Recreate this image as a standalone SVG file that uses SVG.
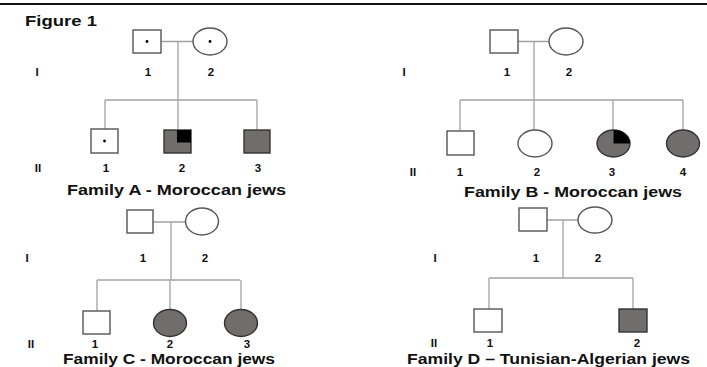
<svg xmlns="http://www.w3.org/2000/svg" width="707" height="367" viewBox="0 0 707 367">
<style>
.ln{stroke:#a3a3a3;stroke-width:1.3;fill:none}
.open{fill:#fff;stroke:#555;stroke-width:1.4}
.aff{fill:#716d6c;stroke:#333;stroke-width:1.4}
.blk{fill:#000}
.lbl{font-family:"Liberation Sans",Arial,sans-serif;font-weight:bold;font-size:11.5px;fill:#111;text-anchor:middle}
.fam{font-family:"Liberation Sans",Arial,sans-serif;font-weight:bold;font-size:14.5px;fill:#111}
</style>
<rect width="707" height="367" fill="#fff"/>
<line x1="0" y1="4" x2="707" y2="4" stroke="#111" stroke-width="2"/>
<text x="25" y="26" class="fam" font-size="15.5" textLength="72" lengthAdjust="spacingAndGlyphs">Figure 1</text>

<g id="connectors">
  <!-- A -->
  <path class="ln" d="M161 41.5H193M178 41.5V100M105 100H257M105 100V129M178 100V129M257 100V130"/>
  <!-- B -->
  <path class="ln" d="M518 41.5H549M534 41.5V100M460 100H683M460 100V131M534 100V130M613 100V130M683 100V130"/>
  <!-- C -->
  <path class="ln" d="M153 222H186M171 222V280M97 280H240M97 280V311M170 280V310M241 280V310"/>
  <!-- D -->
  <path class="ln" d="M547 220H578M563 220V278M489 278H633M489 278V309M633 278V309"/>
</g>

<g id="famA">
  <g id="A-I-1"><rect class="open" x="133" y="30" width="28" height="23"/><circle cx="147" cy="41.5" r="1.4" class="blk"/></g>
  <g id="A-I-2"><ellipse class="open" cx="210" cy="41.5" rx="17" ry="13.5"/><circle cx="210" cy="41.5" r="1.4" class="blk"/></g>
  <g id="A-II-1"><rect class="open" x="91" y="129" width="27" height="24"/><circle cx="104.5" cy="141" r="1.4" class="blk"/></g>
  <g id="A-II-2"><rect class="aff" x="164" y="130" width="27" height="23"/><rect class="blk" x="177" y="130" width="14" height="12.5"/></g>
  <g id="A-II-3"><rect class="aff" x="244" y="130" width="26" height="23"/></g>
  <text class="lbl" x="37" y="76">I</text><text class="lbl" x="148" y="76">1</text><text class="lbl" x="211" y="76">2</text>
  <text class="lbl" x="38" y="172">II</text><text class="lbl" x="106" y="172">1</text><text class="lbl" x="182" y="172">2</text><text class="lbl" x="258" y="172">3</text>
  <text class="fam" x="67" y="195" textLength="219" lengthAdjust="spacingAndGlyphs">Family  A - Moroccan jews</text>
</g>

<g id="famB">
  <g id="B-I-1"><rect class="open" x="490" y="30" width="28" height="23"/></g>
  <g id="B-I-2"><ellipse class="open" cx="566" cy="41.5" rx="17" ry="13.5"/></g>
  <g id="B-II-1"><rect class="open" x="447" y="131" width="27" height="24"/></g>
  <g id="B-II-2"><ellipse class="open" cx="535" cy="143.5" rx="17" ry="13.5"/></g>
  <g id="B-II-3"><ellipse class="aff" cx="613.5" cy="143.5" rx="16.5" ry="13.5"/><path class="blk" d="M613.5 143.5V130A16.5 13.5 0 0 1 630 143.5Z"/></g>
  <g id="B-II-4"><ellipse class="aff" cx="683" cy="143.5" rx="16.5" ry="13.5"/></g>
  <text class="lbl" x="404" y="76">I</text><text class="lbl" x="507" y="76">1</text><text class="lbl" x="569" y="76">2</text>
  <text class="lbl" x="413" y="176">II</text><text class="lbl" x="460" y="176">1</text><text class="lbl" x="537" y="176">2</text><text class="lbl" x="612" y="176">3</text><text class="lbl" x="683" y="176">4</text>
  <text class="fam" x="464" y="197" textLength="218" lengthAdjust="spacingAndGlyphs">Family  B - Moroccan jews</text>
</g>

<g id="famC">
  <g id="C-I-1"><rect class="open" x="127" y="210" width="26" height="23"/></g>
  <g id="C-I-2"><ellipse class="open" cx="202" cy="221.5" rx="16.5" ry="13.5"/></g>
  <g id="C-II-1"><rect class="open" x="83" y="311" width="27" height="23"/></g>
  <g id="C-II-2"><ellipse class="aff" cx="170" cy="323" rx="16.5" ry="13.5"/></g>
  <g id="C-II-3"><ellipse class="aff" cx="241" cy="323" rx="16.5" ry="13.5"/></g>
  <text class="lbl" x="27" y="262">I</text><text class="lbl" x="143" y="262">1</text><text class="lbl" x="205" y="262">2</text>
  <text class="lbl" x="31" y="347.5">II</text><text class="lbl" x="95" y="347.5">1</text><text class="lbl" x="170" y="347.5">2</text><text class="lbl" x="247" y="347.5">3</text>
  <text class="fam" x="63" y="364" textLength="212" lengthAdjust="spacingAndGlyphs">Family C - Moroccan jews</text>
</g>

<g id="famD">
  <g id="D-I-1"><rect class="open" x="519" y="208" width="28" height="23"/></g>
  <g id="D-I-2"><ellipse class="open" cx="595" cy="220" rx="17" ry="13"/></g>
  <g id="D-II-1"><rect class="open" x="474" y="309" width="28" height="23"/></g>
  <g id="D-II-2"><rect class="aff" x="619" y="309" width="28" height="23"/></g>
  <text class="lbl" x="435" y="262">I</text><text class="lbl" x="536" y="262">1</text><text class="lbl" x="598" y="262">2</text>
  <text class="lbl" x="434" y="346.5">II</text><text class="lbl" x="490" y="346.5">1</text><text class="lbl" x="637" y="346.5">2</text>
  <text class="fam" x="407" y="363.5" textLength="283" lengthAdjust="spacingAndGlyphs">Family  D – Tunisian-Algerian jews</text>
</g>
</svg>
